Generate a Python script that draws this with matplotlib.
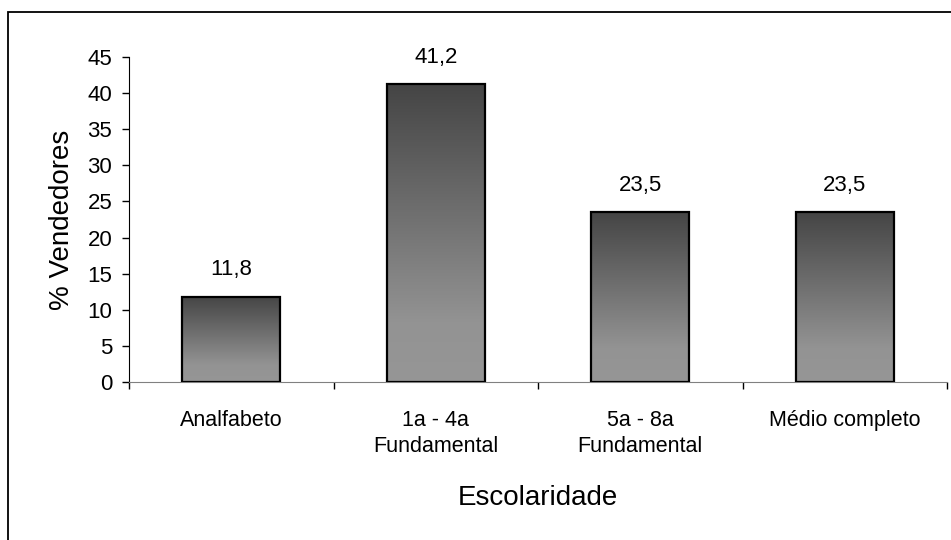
import matplotlib.pyplot as plt
import numpy as np
from matplotlib.colors import LinearSegmentedColormap
from matplotlib.patches import Rectangle

plt.rcParams["font.family"] = ["Liberation Sans", "DejaVu Sans"]

categories = ["Analfabeto", "1a - 4a\nFundamental", "5a - 8a\nFundamental", "Médio completo"]
percent = [11.8, 41.2, 23.5, 23.5]
value_labels = ["11,8", "41,2", "23,5", "23,5"]

fig = plt.figure(figsize=(9.51, 5.4), dpi=100)
ax = fig.add_axes([129 / 951, 1 - 382 / 540, 818 / 951, 325 / 540])

# vertical grey gradient: light at the base, dark at the top
shade = LinearSegmentedColormap.from_list(
    "shade", [(0.0, "#969696"), (0.2, "#939393"), (1.0, "#454545")])
ramp = np.linspace(0, 1, 256).reshape(-1, 1)

width = 0.48
x = np.arange(len(categories))
for xi, h in zip(x, percent):
    ax.imshow(ramp, cmap=shade, origin="lower", aspect="auto",
              extent=[xi - width / 2, xi + width / 2, 0, h], zorder=2)
ax.bar(x, percent, width=width, facecolor="none", edgecolor="black",
       linewidth=1.6, zorder=3)

for xi, h, lab in zip(x, percent, value_labels):
    ax.annotate(lab, (xi, h), xytext=(0, 12), textcoords="offset points",
                ha="center", va="bottom", fontsize=16)

ax.set_xlim(-0.5, len(categories) - 0.5)
ax.set_ylim(0, 45)
ax.set_yticks(range(0, 50, 5))
ax.tick_params(axis="y", length=5, width=1, pad=7, labelsize=16)

ax.set_xticks(x)
ax.set_xticklabels(categories, fontsize=15.5, linespacing=1.35)
ax.tick_params(axis="x", which="major", length=0, pad=20)
ax.set_xticks(np.arange(len(categories) + 1) - 0.5, minor=True)
ax.tick_params(axis="x", which="minor", length=5, width=1, color="black")

for side in ("top", "right"):
    ax.spines[side].set_visible(False)
ax.spines["bottom"].set_color("#808080")
ax.spines["left"].set_color("black")

ax.set_xlabel("Escolaridade", fontsize=20, va="center")
ax.xaxis.set_label_coords(0.5, -0.357)
ax.set_ylabel("% Vendedores", fontsize=20, va="center")
ax.yaxis.set_label_coords(-0.082, 0.5)

# chart area border
fig.patches.append(Rectangle((8 / 951, -0.1), 1.2, 1.1 - 12 / 540,
                             transform=fig.transFigure, fill=False,
                             edgecolor="black", linewidth=1.3))

fig.savefig("out.png", dpi=100)
plt.close(fig)
